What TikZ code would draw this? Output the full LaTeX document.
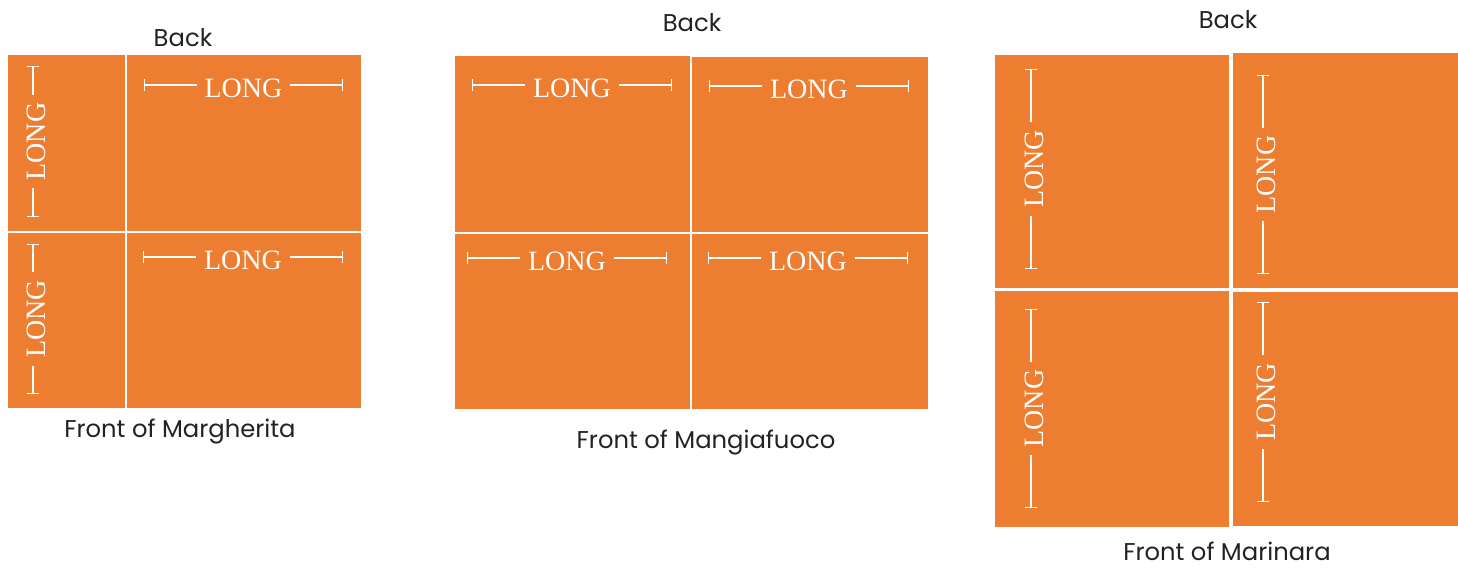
\documentclass[tikz,border=0pt]{standalone}
\usepackage{fontspec}
\newfontfamily\labelfont{Poppins}
\newfontfamily\longfont{Liberation Serif}
\usetikzlibrary{arrows.meta}
\definecolor{pizza}{HTML}{ED7D31}
\definecolor{inkgray}{HTML}{222222}

\tikzset{
  tile/.style={fill=pizza},
  dimline/.style={draw=white, line width=0.8pt, {Bar[width=9pt]}-{Bar[width=9pt]}},
  longtxt/.style={fill=pizza, text=white, font=\longfont\fontsize{21pt}{24pt}\selectfont,
    inner xsep=6pt, inner ysep=0pt, text height=19pt, text depth=0pt},
  caption/.style={anchor=base, text=inkgray, font=\labelfont\fontsize{18.2pt}{21pt}\selectfont, inner sep=0pt}
}

\begin{document}
\begin{tikzpicture}[x=0.75pt, y=-0.75pt]

        \useasboundingbox (0,0) rectangle (1458,569);

        % Margherita tiles
        \fill[tile] (8,55) rectangle (125,231);
        \fill[tile] (127,55) rectangle (361,231);
        \fill[tile] (8,233) rectangle (125,408);
        \fill[tile] (127,233) rectangle (361,408);

        % Mangiafuoco tiles
        \fill[tile] (455,56) rectangle (690,232);
        \fill[tile] (692,57) rectangle (928,232);
        \fill[tile] (455,234) rectangle (690,409);
        \fill[tile] (692,234) rectangle (928,409);

        % Marinara tiles
        \fill[tile] (995,55) rectangle (1229,288);
        \fill[tile] (1233,53) rectangle (1458,288);
        \fill[tile] (995,291) rectangle (1229,527);
        \fill[tile] (1233,292) rectangle (1458,526);

        % Ends of the dimension lines
        \coordinate (mA1) at (33,66);   \coordinate (mA2) at (33,217);
        \coordinate (mB1) at (144,85);  \coordinate (mB2) at (343,85);
        \coordinate (mC1) at (33,244);  \coordinate (mC2) at (33,394);
        \coordinate (mD1) at (143,257); \coordinate (mD2) at (343,257);

        \coordinate (fA1) at (472,85);  \coordinate (fA2) at (672,85);
        \coordinate (fB1) at (709,86);  \coordinate (fB2) at (909,86);
        \coordinate (fC1) at (467,258); \coordinate (fC2) at (667,258);
        \coordinate (fD1) at (708,258); \coordinate (fD2) at (908,258);

        \coordinate (nA1) at (1031,69);  \coordinate (nA2) at (1031,269);
        \coordinate (nB1) at (1263,75);  \coordinate (nB2) at (1263,274);
        \coordinate (nC1) at (1031,309); \coordinate (nC2) at (1031,508);
        \coordinate (nD1) at (1263,302); \coordinate (nD2) at (1263,502);

        % Margherita dimensions
        \draw[dimline] (mA2) -- node[longtxt, rotate=90] (mAl) {LONG} (mA1);
        \draw[dimline] (mB1) -- node[longtxt] (mBl) {LONG} (mB2);
        \draw[dimline] (mC2) -- node[longtxt, rotate=90] (mCl) {LONG} (mC1);
        \draw[dimline] (mD1) -- node[longtxt] (mDl) {LONG} (mD2);

        % Mangiafuoco dimensions
        \draw[dimline] (fA1) -- node[longtxt] (fAl) {LONG} (fA2);
        \draw[dimline] (fB1) -- node[longtxt] (fBl) {LONG} (fB2);
        \draw[dimline] (fC1) -- node[longtxt] (fCl) {LONG} (fC2);
        \draw[dimline] (fD1) -- node[longtxt] (fDl) {LONG} (fD2);

        % Marinara dimensions
        \draw[dimline] (nA2) -- node[longtxt, rotate=90] (nAl) {LONG} (nA1);
        \draw[dimline] (nB2) -- node[longtxt, rotate=90] (nBl) {LONG} (nB1);
        \draw[dimline] (nC2) -- node[longtxt, rotate=90] (nCl) {LONG} (nC1);
        \draw[dimline] (nD2) -- node[longtxt, rotate=90] (nDl) {LONG} (nD1);

        % Captions
        \node[caption] (backM) at (183,46) {Back};
        \node[caption] (frontM) at (180,437) {Front of Margherita};
        \node[caption] (backF) at (692,31) {Back};
        \node[caption] (frontF) at (706,448) {Front of Mangiafuoco};
        \node[caption] (backN) at (1228,28) {Back};
        \node[caption] (frontN) at (1227,560) {Front of Marinara};

\end{tikzpicture}
\end{document}
